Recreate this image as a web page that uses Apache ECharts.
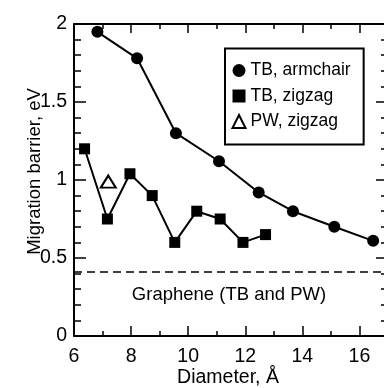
<!DOCTYPE html>
<html>
<head>
<meta charset="utf-8">
<script src="https://cdn.jsdelivr.net/npm/echarts@6/dist/echarts.min.js"></script>
<style>
html,body{margin:0;padding:0;background:#fff;}
#chart{width:384px;height:388px;}
</style>
</head>
<body>
<div id="chart"></div>
<script>
// Data
var armchairX = [6.82, 8.21, 9.57, 11.08, 12.47, 13.67, 15.12, 16.48];
var armchairY = [1.95, 1.78, 1.30, 1.12, 0.92, 0.80, 0.70, 0.61];
var zigzagX = [6.37, 7.17, 7.96, 8.74, 9.53, 10.30, 11.12, 11.92, 12.71];
var zigzagY = [1.20, 0.75, 1.04, 0.90, 0.60, 0.80, 0.75, 0.60, 0.65];
var pwX = [7.20];
var pwY = [0.99];
var grapheneBarrier = 0.41;
var seriesNames = ['TB, armchair', 'TB, zigzag', 'PW, zigzag'];
var xMajorTicks = [6, 8, 10, 12, 14, 16];
var xMinorTicks = [7, 9, 11, 13, 15, 17];
var xRange = [6, 17];
var yRange = [0, 2];
var yInterval = 0.5;
var texts = {
  xTitle: 'Diameter, Å',
  yTitle: 'Migration barrier, eV',
  graphene: 'Graphene (TB and PW)'
};

function pairs(xs, ys) { return xs.map(function (x, i) { return [x, ys[i]]; }); }

var FONT = '"Liberation Sans", Arial, Helvetica, sans-serif';
var chart = echarts.init(document.getElementById('chart'), null, {renderer: 'canvas'});

function xAx(pos, ticks, len, showLine, showLabels) {
  return {
    type: 'value', position: pos, min: xRange[0], max: xRange[1],
    axisLine: {show: showLine, onZero: false, lineStyle: {color: '#000', width: 2}},
    axisTick: {show: true, inside: true, length: len, customValues: ticks, lineStyle: {color: '#000', width: 1.5}},
    axisLabel: {show: showLabels, customValues: xMajorTicks, margin: 11, color: '#000', fontSize: 19.5, fontFamily: FONT},
    splitLine: {show: false}, minorTick: {show: false}
  };
}
function yAx(pos, showLabels) {
  return {
    type: 'value', position: pos, min: yRange[0], max: yRange[1], interval: yInterval,
    axisLine: {show: true, onZero: false, lineStyle: {color: '#000', width: 2}},
    axisTick: {show: true, inside: true, length: 12, lineStyle: {color: '#000', width: 1.5}},
    minorTick: {show: true, splitNumber: 5, length: 7, lineStyle: {color: '#000', width: 1.5}},
    axisLabel: {show: showLabels, margin: 7, color: '#000', fontSize: 19.5, fontFamily: FONT},
    splitLine: {show: false}, minorSplitLine: {show: false}
  };
}

var option = {
  animation: false,
  backgroundColor: '#fff',
  grid: {left: 74, right: -4, top: 24, bottom: 52, containLabel: false, outerBoundsMode: 'none'},
  xAxis: [
    xAx('bottom', xMajorTicks, 10, true, true),
    xAx('top', xMajorTicks, 9, true, false),
    xAx('bottom', xMinorTicks, 5, false, false),
    xAx('top', xMinorTicks, 5, false, false)
  ],
  yAxis: [yAx('left', true), yAx('right', false)],
  legend: {
    orient: 'vertical', left: 225, top: 48.5,
    padding: [13, 13, 14, 6.5],
    itemWidth: 13, itemHeight: 13, itemGap: 7.5,
    borderColor: '#000', borderWidth: 2, backgroundColor: '#fff',
    textStyle: {color: '#000', fontSize: 17.5, fontFamily: FONT, lineHeight: 17.5},
    data: [
      {name: seriesNames[0], icon: 'circle'},
      {name: seriesNames[1], icon: 'rect'},
      {name: seriesNames[2], icon: 'triangle'}
    ]
  },
  series: [
    {
      name: seriesNames[0], type: 'line', data: pairs(armchairX, armchairY),
      symbol: 'circle', symbolSize: 12, showAllSymbol: true,
      lineStyle: {color: '#000', width: 2}, itemStyle: {color: '#000'},
      markLine: {
        silent: true, symbol: ['none', 'none'], label: {show: false},
        lineStyle: {color: '#000', width: 1.5, type: [8, 5]},
        data: [{yAxis: grapheneBarrier}]
      }
    },
    {
      name: seriesNames[1], type: 'line', data: pairs(zigzagX, zigzagY),
      symbol: 'rect', symbolSize: 11, showAllSymbol: true,
      lineStyle: {color: '#000', width: 2}, itemStyle: {color: '#000'}
    },
    {
      name: seriesNames[2], type: 'scatter', data: pairs(pwX, pwY),
      symbol: 'triangle', symbolSize: [15, 12],
      itemStyle: {color: '#fff', borderColor: '#000', borderWidth: 2, opacity: 1}
    }
  ],
  graphic: [
    {type: 'text', x: 228, y: 378, style: {text: texts.xTitle, font: '19.5px ' + FONT, fill: '#000', textAlign: 'center', textVerticalAlign: 'middle'}},
    {type: 'text', x: 35, y: 171.5, rotation: Math.PI / 2, style: {text: texts.yTitle, font: '18.5px ' + FONT, fill: '#000', textAlign: 'center', textVerticalAlign: 'middle'}},
    {type: 'text', x: 229, y: 295, style: {text: texts.graphene, font: '18.5px ' + FONT, fill: '#000', textAlign: 'center', textVerticalAlign: 'middle'}}
  ]
};
chart.setOption(option);
</script>
</body>
</html>
